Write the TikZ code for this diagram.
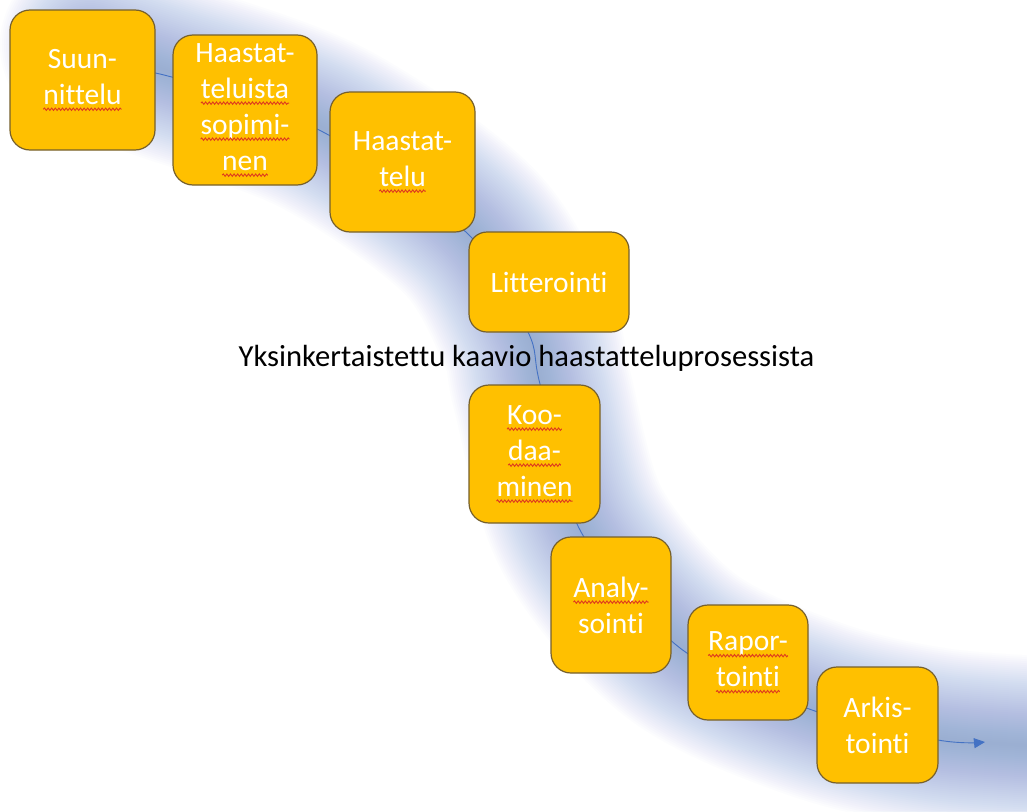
\documentclass[tikz,border=0pt]{standalone}
\usepackage{fontspec}
\setmainfont{Carlito}[Ligatures=NoCommon]
\usetikzlibrary{arrows.meta,decorations.pathmorphing}

\definecolor{boxfill}{RGB}{255,192,0}
\definecolor{boxline}{RGB}{118,96,44}
\definecolor{flowblue}{RGB}{68,114,196}
\definecolor{glowblue}{RGB}{110,140,206}
\definecolor{spellred}{RGB}{222,58,30}

% red wavy underline for words flagged by the speller
\newcommand\spell[1]{\tikz[baseline=(w.base)]{%
  \node[draw=none, fill=none, text=white, rounded corners=0pt, inner sep=0pt, outer sep=0pt,
        minimum width=0pt, minimum height=0pt] (w) {#1};
  \draw[spellred, line width=0.9pt, rounded corners=0pt, decorate,
        decoration={snake, amplitude=1.2pt, segment length=3.6pt}]
    ([yshift=-5pt]w.base west) -- ([yshift=-5pt]w.base east);}}
\newcommand\boxfont{\fontsize{29.5}{36}\selectfont}

\tikzset{
  stepbox/.style={draw=boxline, fill=boxfill, line width=1.2pt, rounded corners=20pt,
    text=white, align=center, font=\boxfont, inner sep=0pt},
  flowline/.style={draw=flowblue, line width=0.9pt},
  glowline/.style={draw=glowblue, opacity=0.021, line cap=round, line join=round},
}

\begin{document}
\begin{tikzpicture}[x=1pt,y=-1pt]
\useasboundingbox (0,0) rectangle (1027,811);
\fill[white] (0,0) rectangle (1027,811);

% soft blue band behind the process
\foreach \w in {4,8,...,180}{
  \draw[glowline, line width=\w pt] plot[smooth, tension=0.55] coordinates
    {(90,45) (164,70) (323,128) (468,230) (528,332) (542,390) (582,530) (680,645) (812,708) (938,738) (1080,748)};
}

% connector running through all steps
\coordinate (flowstart) at (20,55);
\coordinate (flowend) at (985,742);
\draw[flowline, -{Triangle[length=11pt,width=10pt]}] plot[smooth, tension=0.5] coordinates
  {(flowstart) (164,75) (323,132) (468,234) (528,332) (540,384) (580,530) (680,648) (812,710) (938,740) (flowend)};

% caption
\node[font=\fontsize{30.6}{36}\selectfont, text=black, inner sep=0pt] (caption) at (526.5,358)
  {Yksinkertaistettu kaavio haastatteluprosessista};

% process steps
\node[stepbox, minimum width=145pt, minimum height=140pt] (s1) at (82.5,80)
  {Suun-\\\spell{nittelu}};
\node[stepbox, minimum width=144pt, minimum height=150pt] (s2) at (245,110)
  {Haastat-\\\spell{teluista}\\\spell{sopimi-}\\\spell{nen}};
\node[stepbox, minimum width=145pt, minimum height=140pt] (s3) at (402.5,162)
  {Haastat-\\\spell{telu}};
\node[stepbox, minimum width=160pt, minimum height=100pt, rounded corners=18pt] (s4) at (549,282)
  {Litterointi};
\node[stepbox, minimum width=131pt, minimum height=138pt] (s5) at (534.5,454)
  {\spell{Koo-}\\\spell{daa-}\\\spell{minen}};
\node[stepbox, minimum width=120pt, minimum height=136pt] (s6) at (611,605)
  {\spell{Analy-}\\sointi};
\node[stepbox, minimum width=120pt, minimum height=115pt] (s7) at (748,662.5)
  {\spell{Rapor-}\\\spell{tointi}};
\node[stepbox, minimum width=121pt, minimum height=116pt] (s8) at (877.5,725)
  {Arkis-\\tointi};
\end{tikzpicture}
\end{document}
